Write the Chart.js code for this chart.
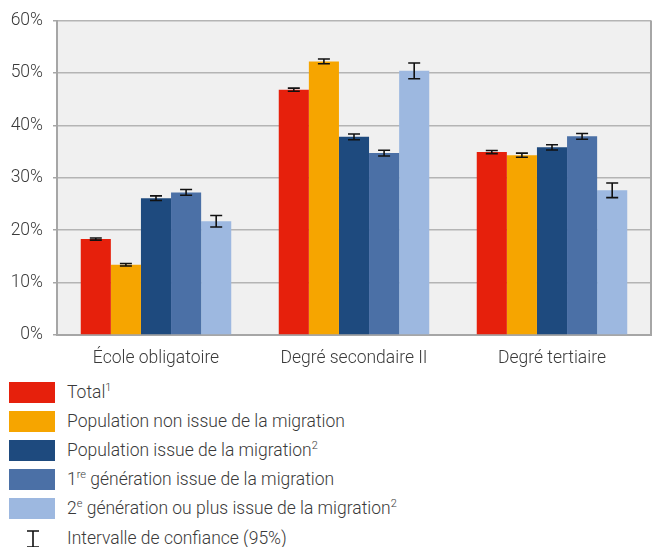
<!DOCTYPE html>
<html>
<head>
<meta charset="utf-8">
<script src="https://cdn.jsdelivr.net/npm/chart.js@4"></script>
<style>
    body { margin: 0; background: #fff; font-family: Roboto, "Noto Sans", sans-serif; }
    #wrap { position: relative; width: 652px; height: 547px; }
    #chartBox { position: absolute; left: 0; top: 0; width: 652px; height: 370px; }
    #legend { position: absolute; left: 0; top: 382px; }
    .item { position: absolute; left: 0; height: 21px; width: 620px; }
    .sw { position: absolute; left: 9px; top: 0; width: 46px; height: 21px; }
    .lbl { position: absolute; left: 67px; top: 0; line-height: 21px; font-size: 17.5px; font-weight: 300; color: #3a3a3a; white-space: nowrap; }
    .lbl sup { font-size: 11px; line-height: 0; vertical-align: 7px; }
    .ci { position: absolute; left: 27px; top: 2px; width: 12px; height: 18px; }
</style>
</head>
<body>
<div id="wrap">
    <div id="chartBox"><canvas id="eduChart"></canvas></div>
    <div id="legend"></div>
</div>
<script>
// categories
const categories = ["École obligatoire", "Degré secondaire II", "Degré tertiaire"];

// series values (%)
const total        = [18.3, 46.8, 34.9];
const nonMigr      = [13.4, 52.2, 34.3];
const migr         = [26.1, 37.8, 35.8];
const gen1         = [27.2, 34.7, 37.9];
const gen2         = [21.7, 50.4, 27.6];

// half-width of the 95% confidence intervals
const totalCi   = [0.2, 0.3, 0.3];
const nonMigrCi = [0.25, 0.45, 0.4];
const migrCi    = [0.45, 0.55, 0.5];
const gen1Ci    = [0.55, 0.55, 0.55];
const gen2Ci    = [1.1, 1.5, 1.4];

const seriesNames = [
    "Total<sup>1</sup>",
    "Population non issue de la migration",
    "Population issue de la migration<sup>2</sup>",
    "1<sup>re</sup> génération issue de la migration",
    "2<sup>e</sup> génération ou plus issue de la migration<sup>2</sup>"
];
const ciLabel = "Intervalle de confiance (95%)";
const yTicks = [0, 10, 20, 30, 40, 50, 60];

const colors = ["#e6200c", "#f6a500", "#1e4a7e", "#4b70a6", "#9db8e0"];
const values = [total, nonMigr, migr, gen1, gen2];
const cis = [totalCi, nonMigrCi, migrCi, gen1Ci, gen2Ci];

const plotFrame = {
    id: "plotFrame",
    beforeDraw(chart) {
        const a = chart.chartArea, c = chart.ctx;
        c.save();
        c.fillStyle = "#f0f0f0";
        c.fillRect(a.left, a.top, a.right - a.left, a.bottom - a.top);
        c.restore();
    },
    afterDatasetsDraw(chart) {
        const a = chart.chartArea, c = chart.ctx;
        c.save();
        c.strokeStyle = "#a6a6a6";
        c.lineWidth = 2;
        c.beginPath();
        c.moveTo(a.right, a.top);
        c.lineTo(a.right, a.bottom);
        c.stroke();
        c.restore();
    }
};

const errorBars = {
    id: "errorBars",
    afterDatasetsDraw(chart) {
        const c = chart.ctx, y = chart.scales.y;
        c.save();
        c.strokeStyle = "#111";
        c.lineWidth = 1.6;
        chart.data.datasets.forEach((ds, i) => {
            chart.getDatasetMeta(i).data.forEach((bar, j) => {
                const v = ds.data[j], e = cis[i][j];
                const yLo = y.getPixelForValue(v - e), yHi = y.getPixelForValue(v + e);
                const x = bar.x, w = 6;
                c.beginPath();
                c.moveTo(x, yLo); c.lineTo(x, yHi);
                c.moveTo(x - w, yLo); c.lineTo(x + w, yLo);
                c.moveTo(x - w, yHi); c.lineTo(x + w, yHi);
                c.stroke();
            });
        });
        c.restore();
    }
};

new Chart(document.getElementById("eduChart"), {
    type: "bar",
    data: {
        labels: categories,
        datasets: values.map((v, i) => ({
            label: seriesNames[i],
            data: v,
            backgroundColor: colors[i],
            borderWidth: 0,
            barPercentage: 1.0,
            categoryPercentage: 0.76
        }))
    },
    options: {
        responsive: true,
        maintainAspectRatio: false,
        animation: false,
        layout: { padding: { top: 20, right: 1, left: 0, bottom: 0 } },
        plugins: { legend: { display: false }, tooltip: { enabled: false } },
        scales: {
            x: {
                grid: { display: false },
                border: { display: true, color: "#a6a6a6", width: 2 },
                ticks: { color: "#3a3a3a", font: { family: "Roboto", size: 17.5, weight: 300 }, padding: 5 },
                afterFit(s) { s.height = 35; }
            },
            y: {
                min: 0,
                max: 60,
                afterBuildTicks(s) { s.ticks = yTicks.map(v => ({ value: v })); },
                grid: { color: "#b4b4b4", lineWidth: 1.5, tickLength: 4, tickColor: "#a6a6a6" },
                border: { display: true, color: "#a6a6a6", width: 2 },
                ticks: {
                    color: "#3a3a3a",
                    font: { family: "Roboto", size: 17.5, weight: 300 },
                    padding: 10,
                    callback: v => v + "%"
                },
                afterFit(s) { s.width = 57; }
            }
        }
    },
    plugins: [plotFrame, errorBars]
});

// legend built from the series arrays
const legend = document.getElementById("legend");
seriesNames.forEach((name, i) => {
    const it = document.createElement("div");
    it.className = "item";
    it.style.top = (i * 29) + "px";
    it.innerHTML = '<div class="sw" style="background:' + colors[i] + '"></div><div class="lbl">' + name + '</div>';
    legend.appendChild(it);
});
const ciItem = document.createElement("div");
ciItem.className = "item";
ciItem.style.top = (5 * 29 + 1) + "px";
ciItem.innerHTML = '<svg class="ci" viewBox="0 0 12 18"><path d="M0 1H12M6 1V17M0 17H12" stroke="#111" stroke-width="1.6" fill="none"/></svg><div class="lbl">' + ciLabel + '</div>';
legend.appendChild(ciItem);
</script>
</body>
</html>
